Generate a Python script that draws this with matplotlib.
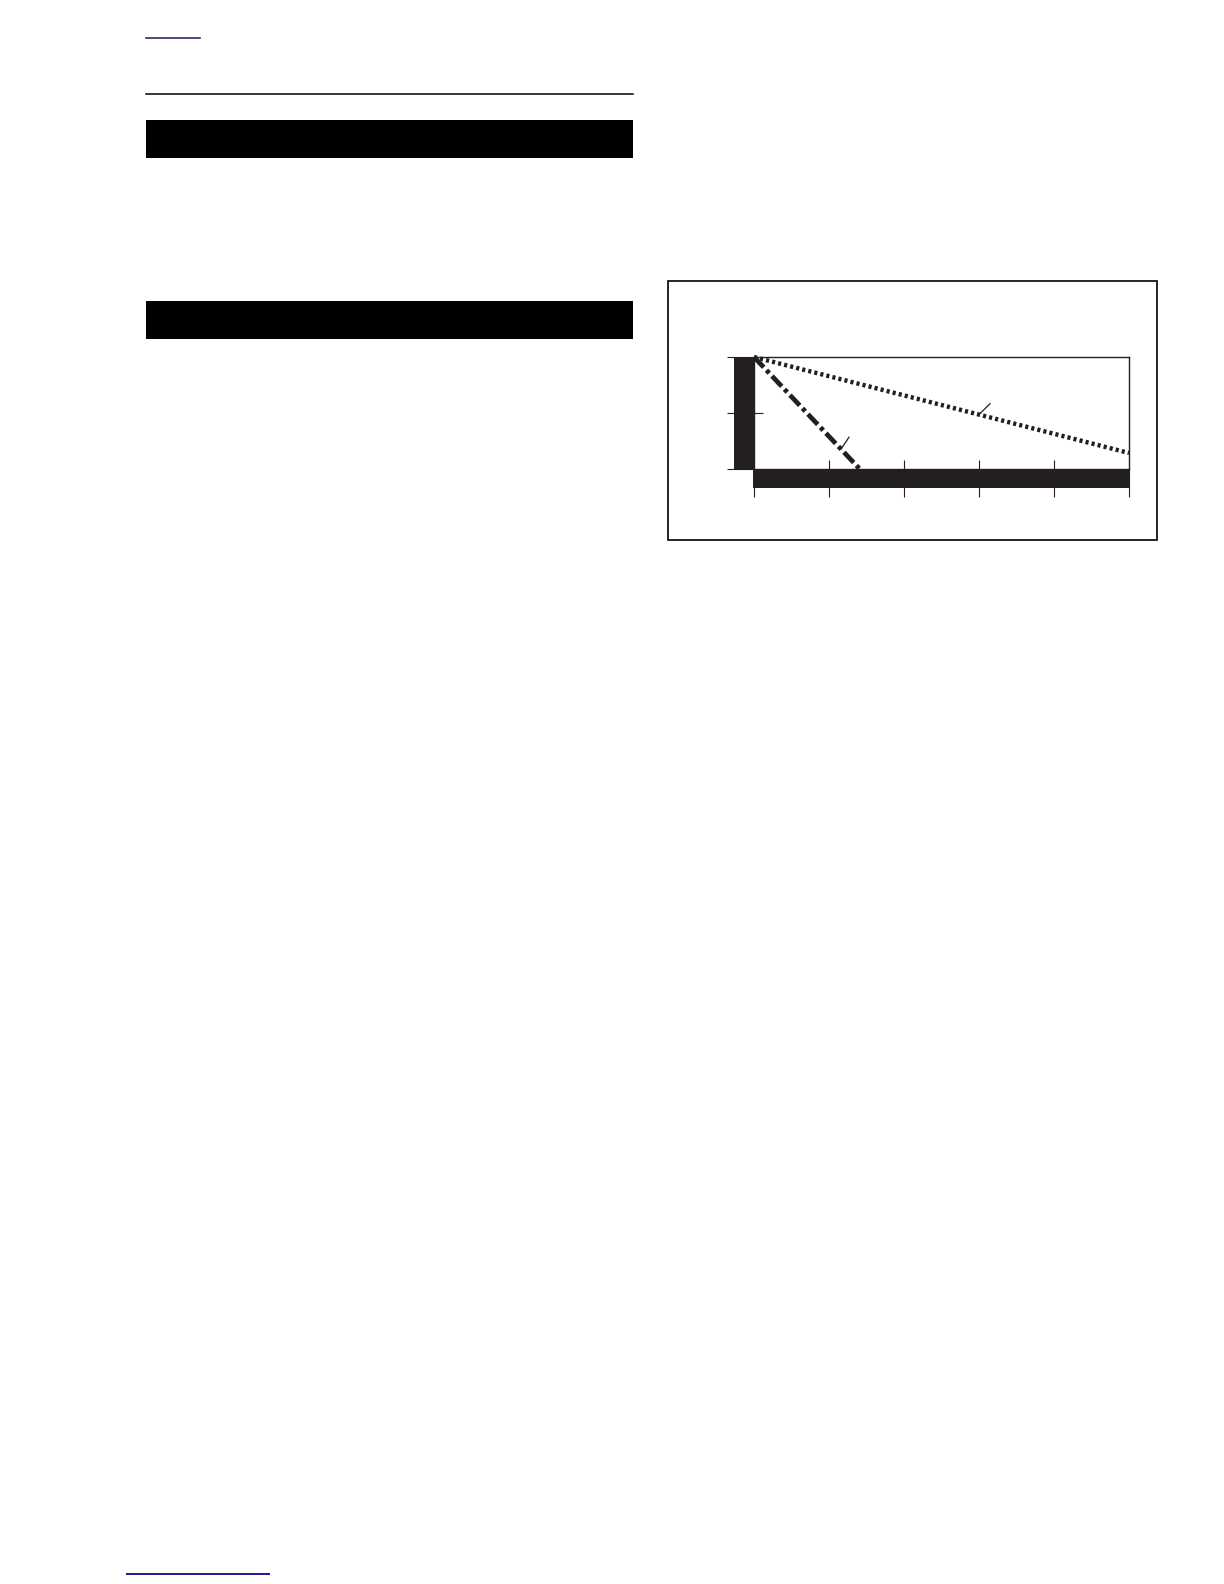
import numpy as np
import matplotlib
matplotlib.use("Agg")
import matplotlib.pyplot as plt
from matplotlib.patches import Rectangle
from matplotlib.lines import Line2D

# ============================================================
# DATA (no text survives in it)
# ============================================================

x_ticks = [0, 1, 2, 3, 4, 5]
y_ticks = [0.0, 0.5, 1.0]

# steep derating curve (dash-dot)
steep_x = [0.0, 1.41]
steep_y = [1.0, 0.0]

# shallow derating curve (dotted)
shallow_x = [0.0, 5.0]
shallow_y = [1.0, 0.143]

# label leader lines: anchor x on the curve, offset (dx, dy)
steep_leader = (1.16, 0.107, 0.107)
shallow_leader = (3.0, 0.147, 0.098)

# ============================================================
# PAGE LAYOUT (pixels)
# ============================================================

W, H = 1224, 1584
INK = "#231f20"


def fx(px):
    return px / W


def fy(py):
    return 1 - py / H


fig = plt.figure(figsize=(W / 100, H / 100), dpi=100)

# top-left link underline
fig.add_artist(Line2D([fx(146), fx(200)], [fy(38), fy(38)],
                      color="#2b2a6e", lw=1.2))

# header rule
fig.add_artist(Line2D([fx(146), fx(633)], [fy(94), fy(94)],
                      color="black", lw=1.1))

# black section bars
for top, bot in [(120, 158), (301, 339)]:
    fig.add_artist(Rectangle((fx(146), fy(bot)), fx(633) - fx(146),
                             fy(top) - fy(bot), facecolor="black",
                             edgecolor="none"))

# bottom link underline
fig.add_artist(Line2D([fx(127), fx(269)], [fy(1574), fy(1574)],
                      color="#1a1a8c", lw=1.4))

# chart frame
fig.add_artist(Rectangle((fx(668), fy(540)), fx(1157) - fx(668),
                         fy(281) - fy(540), facecolor="none",
                         edgecolor="black", lw=1.2))

# ============================================================
# CHART
# ============================================================

ax = fig.add_axes([fx(754), fy(469), fx(1129) - fx(754), fy(357) - fy(469)])

ax.plot(
    steep_x,
    steep_y,
    color=INK,
    lw=3.4,
    dashes=(3.0, 0.85, 0.85, 0.85),
    dash_capstyle="butt",
    clip_on=False
)

ax.plot(
    shallow_x,
    shallow_y,
    color=INK,
    lw=3.2,
    dashes=(0.7, 0.7),
    dash_capstyle="butt",
    clip_on=False
)

for (x0, dx, dy), cx, cy in [(steep_leader, steep_x, steep_y),
                             (shallow_leader, shallow_x, shallow_y)]:
    y0 = np.interp(x0, cx, cy)
    ax.plot([x0, x0 + dx], [y0, y0 + dy], color=INK, lw=0.9)

ax.set_xlim(x_ticks[0], x_ticks[-1])
ax.set_ylim(y_ticks[0], y_ticks[-1])

# inner tick stubs sit on the same spots as the outer ticks
ax.xaxis.remove_overlapping_locs = False
ax.yaxis.remove_overlapping_locs = False

ax.set_xticks(x_ticks)
ax.set_yticks(y_ticks)
ax.set_xticks(x_ticks[1:-1], minor=True)
ax.set_yticks(y_ticks[1:-1], minor=True)

ax.tick_params(which="major", direction="out", length=19.8, width=0.8,
               color=INK, labelbottom=False, labelleft=False)
ax.tick_params(which="minor", direction="in", length=6.5, width=0.8,
               color=INK)

for s in ax.spines.values():
    s.set_linewidth(1.0)
    s.set_color(INK)

# filled blocks along the axes
ax.add_patch(Rectangle((-0.267, 0.0), 0.267, 1.0, transform=ax.transData,
                       facecolor=INK, edgecolor="none", clip_on=False,
                       zorder=3))
ax.add_patch(Rectangle((-0.02, -0.17), 5.02, 0.17, transform=ax.transData,
                       facecolor=INK, edgecolor="none", clip_on=False,
                       zorder=3))

fig.savefig("out.png", dpi=100)
